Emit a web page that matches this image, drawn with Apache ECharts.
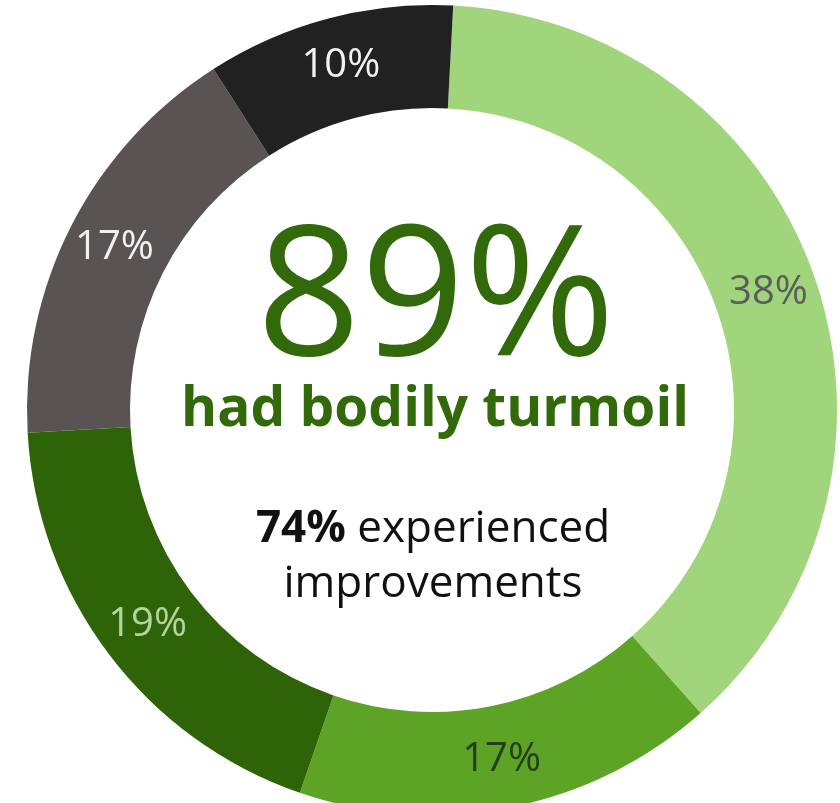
<!DOCTYPE html>
<html>
<head>
<meta charset="utf-8">
<title>89% had bodily turmoil</title>
<script src="https://cdn.jsdelivr.net/npm/echarts@6/dist/echarts.min.js"></script>
<style>
  html, body { margin: 0; padding: 0; background: #fff; }
  #main { width: 840px; height: 803px; }
</style>
</head>
<body>
<div id="main"></div>
<script>
// ring segments, clockwise from 12 o'clock
var segmentNames = ['Segment A', 'Segment B', 'Segment C', 'Segment D', 'Segment E'];
var segmentValues = [38, 17, 19, 17, 10];
var segmentColors = ['#a0d57c', '#5da426', '#2e6407', '#595353', '#212121'];
var labelColors = ['#5c5c5c', '#263f18', '#b3d3a0', '#f2f2f2', '#f2f2f2'];

var headline = '89%';
var subline = 'had bodily turmoil';
var noteStrong = '74%';
var noteRest = ' experienced';
var noteLine2 = 'improvements';

var chart = echarts.init(document.getElementById('main'));

var pieData = segmentNames.map(function (name, i) {
  return {
    name: name,
    value: segmentValues[i],
    itemStyle: { color: segmentColors[i] },
    label: { color: labelColors[i] }
  };
});

var green = '#32690a';
var font = '"Open Sans", "Noto Sans", sans-serif';

chart.setOption({
  backgroundColor: '#ffffff',
  animation: false,
  series: [
    {
      type: 'pie',
      center: [432, 410],
      radius: [302, 405],
      startAngle: 87,
      clockwise: true,
      avoidLabelOverlap: false,
      label: {
        show: true,
        position: 'inside',
        formatter: '{c}%',
        fontFamily: font,
        fontSize: 40,
        fontWeight: 'normal'
      },
      labelLine: { show: false },
      emphasis: { disabled: true },
      data: pieData
    }
  ],
  graphic: [
    {
      type: 'text',
      x: 436,
      y: 303,
      style: {
        text: headline,
        fill: green,
        font: 'normal 182px ' + font,
        textAlign: 'center',
        textVerticalAlign: 'middle'
      }
    },
    {
      type: 'text',
      x: 435,
      y: 410,
      style: {
        text: subline,
        fill: green,
        font: 'bold 55px ' + font,
        textAlign: 'center',
        textVerticalAlign: 'middle'
      }
    },
    {
      type: 'text',
      x: 433,
      y: 529,
      style: {
        text: '{b|' + noteStrong + '}{r|' + noteRest + '}',
        textAlign: 'center',
        textVerticalAlign: 'middle',
        rich: {
          b: { fontFamily: font, fontSize: 44, fontWeight: 'bold', fill: '#111' },
          r: { fontFamily: font, fontSize: 44, fontWeight: 'normal', fill: '#111' }
        }
      }
    },
    {
      type: 'text',
      x: 433,
      y: 584,
      style: {
        text: noteLine2,
        fill: '#111',
        font: 'normal 44px ' + font,
        textAlign: 'center',
        textVerticalAlign: 'middle'
      }
    }
  ]
});
</script>
</body>
</html>
